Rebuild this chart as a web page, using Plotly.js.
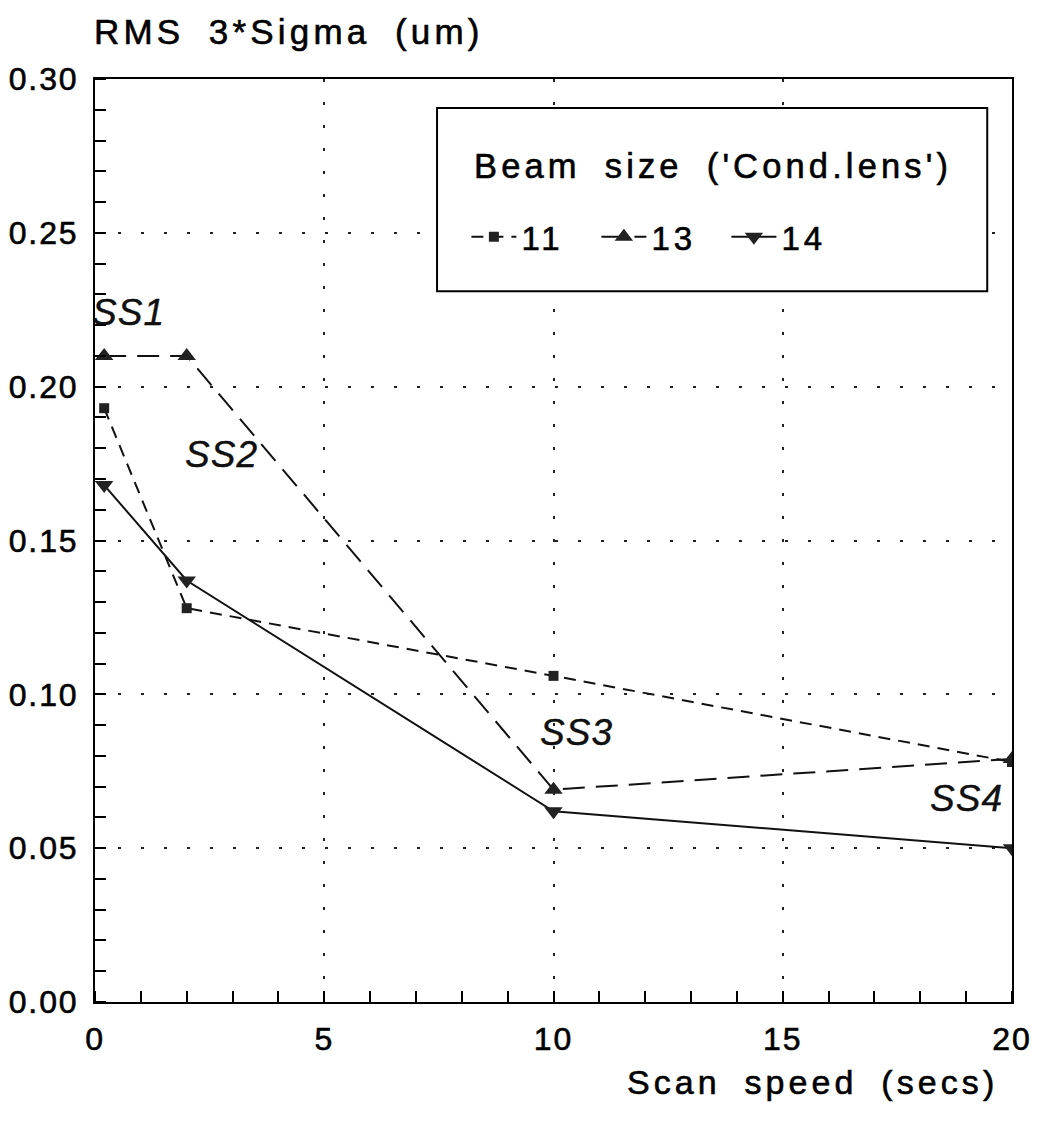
<!DOCTYPE html>
<html><head><meta charset="utf-8">
<script src="https://cdn.plot.ly/plotly-3.0.1.min.js"></script>
<style>
body{margin:0;background:#fff}#chart{width:1037px;height:1130px}
text{letter-spacing:0.12em;word-spacing:0.3em;stroke:#000;stroke-width:0.6px}
.xtick text,.ytick text{letter-spacing:0.06em}
.annotation[data-index="3"] text,.annotation[data-index="4"] text,.annotation[data-index="5"] text,.annotation[data-index="6"] text{letter-spacing:0.03em;stroke-width:0.4px}
</style>
</head><body><div id="chart"></div>
<script>
const seriesNames = ['11', '13', '14'];
const scanSpeed = [0.2, 2, 10, 20];
const rms11 = [0.193, 0.128, 0.106, 0.078];
const rms13 = [0.210, 0.210, 0.069, 0.079];
const rms14 = [0.168, 0.137, 0.062, 0.050];
const labelText = ['SS1', 'SS2', 'SS3', 'SS4'];
const labelX = [0.72, 2.75, 10.5, 19.0];
const labelY = [0.224, 0.178, 0.0875, 0.0663];
const xTicks = [0, 5, 10, 15, 20];
const yTicks = [0, 0.05, 0.10, 0.15, 0.20, 0.25, 0.30];

const F = 'Liberation Sans, Arial, sans-serif';
const traces = [
  {x: scanSpeed, y: rms11, name: seriesNames[0], mode: 'lines+markers',
   line: {color: '#111', width: 2, dash: '12px,8px'},
   marker: {symbol: 'square', size: 10, color: '#222'}},
  {x: scanSpeed, y: rms13, name: seriesNames[1], mode: 'lines+markers',
   line: {color: '#111', width: 2, dash: '22px,11px'},
   marker: {symbol: 'triangle-up', size: 16, color: '#222'}},
  {x: scanSpeed, y: rms14, name: seriesNames[2], mode: 'lines+markers',
   line: {color: '#111', width: 2, dash: 'solid'},
   marker: {symbol: 'triangle-down', size: 16, color: '#222'}}
];

const axisCommon = {
  showline: true, linecolor: '#000', linewidth: 2, mirror: true,
  showgrid: true, gridcolor: '#222', gridwidth: 1.6, griddash: '3px,20px',
  ticks: '', zeroline: false, tickfont: {size: 32, family: F, color: '#000'},
  ticklabelstandoff: 8
};

const layout = {
  width: 1037, height: 1130,
  margin: {l: 95, r: 25, t: 79, b: 128},
  paper_bgcolor: '#fff', plot_bgcolor: '#fff',
  showlegend: true,
  font: {family: F, color: '#000', size: 28},
  xaxis: Object.assign({}, axisCommon, {range: [0, 20], tickvals: xTicks, ticktext: xTicks.map(String),
    minor: {dtick: 1, ticks: 'inside', ticklen: 11, tickcolor: '#000', tickwidth: 1.5, showgrid: false}}),
  yaxis: Object.assign({}, axisCommon, {range: [0, 0.30], tickvals: yTicks, ticktext: yTicks.map(v => v.toFixed(2)),
    minor: {dtick: 0.01, ticks: 'inside', ticklen: 11, tickcolor: '#000', tickwidth: 1.5, showgrid: false}}),
  legend: {x: 0.405, y: 0.829, xanchor: 'left', yanchor: 'middle', orientation: 'h',
    bgcolor: 'rgba(0,0,0,0)', borderwidth: 0, entrywidth: 70, entrywidthmode: 'pixels',
    font: {size: 33, family: F, color: '#000'}, itemwidth: 45},
  shapes: [{type: 'rect', xref: 'paper', yref: 'paper', x0: 0.373, x1: 0.973, y0: 0.770, y1: 0.9686,
    line: {color: '#000', width: 2}, fillcolor: '#fff', layer: 'above'}],
  annotations: [
    {xref: 'paper', yref: 'paper', x: -0.003, y: 1.051, xanchor: 'left', yanchor: 'middle',
     text: 'RMS 3*Sigma (um)', showarrow: false, font: {size: 35, family: F, color: '#000'}},
    {xref: 'paper', yref: 'paper', x: 0.987, y: -0.0867, xanchor: 'right', yanchor: 'middle',
     text: 'Scan speed (secs)', showarrow: false, font: {size: 34, family: F, color: '#000'}},
    {xref: 'paper', yref: 'paper', x: 0.411, y: 0.9057, xanchor: 'left', yanchor: 'middle',
     text: "Beam size ('Cond.lens')", showarrow: false, font: {size: 34.5, family: F, color: '#000'}}
  ].concat(labelText.map((t, i) => ({x: labelX[i], y: labelY[i], text: '<i>' + t + '</i>',
     showarrow: false, font: {size: 37, family: F, color: '#111'}})))
};
Plotly.newPlot('chart', traces, layout, {displayModeBar: false});
</script></body></html>
